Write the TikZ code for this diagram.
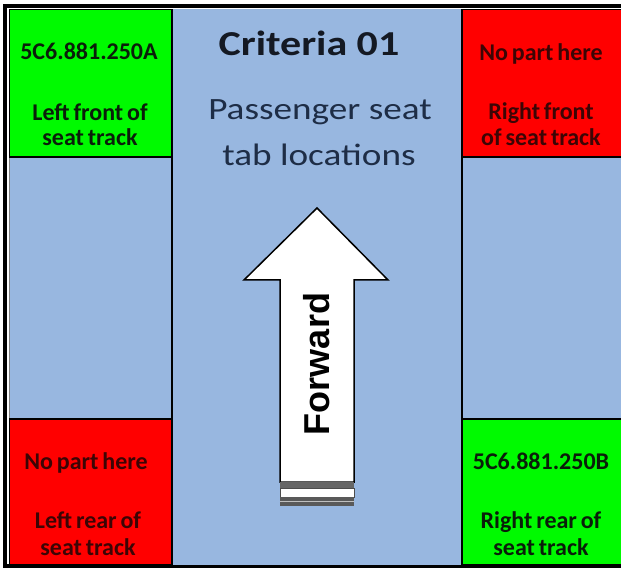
\documentclass[tikz,border=0pt]{standalone}
\usepackage{fontspec}
\setmainfont{Carlito}
\newfontfamily\arialbold[BoldFont={Liberation Sans Bold}]{Liberation Sans}
\usetikzlibrary{positioning}

\definecolor{panelblue}{RGB}{152,183,224}
\definecolor{okgreen}{RGB}{0,250,0}
\definecolor{nored}{RGB}{255,0,0}
\definecolor{greentext}{RGB}{10,30,10}
\definecolor{redtext}{RGB}{60,5,5}
\definecolor{titletext}{RGB}{20,25,35}
\definecolor{subtext}{RGB}{30,45,70}

% tight bold face for the cell captions
\newcommand\cellfont{\fontsize{24}{28}\selectfont\bfseries\spaceskip 0.16em\relax}

\tikzset{
  cell/.style={draw=black, line width=1.2pt},
  celltext/.style={font=\cellfont, inner sep=0pt, anchor=base},
  greenlabel/.style={celltext, text=greentext},
  redlabel/.style={celltext, text=redtext},
  bigtitle/.style={font=\fontsize{35}{40}\selectfont\bfseries, text=titletext, inner sep=0pt, anchor=base},
  subtitle/.style={font=\fontsize{31}{36}\selectfont, text=subtext, inner sep=0pt, anchor=base},
}

\begin{document}
\begin{tikzpicture}[x=1pt, y=-1pt]
\useasboundingbox (0,0) rectangle (621,569);
\begin{scope}
\clip (0,0) rectangle (621,569);

% outer frame
\fill[white] (0,0) rectangle (621,569);
\draw[black, line width=4pt] (5,6.5) rectangle (640,566);
\draw[gray, line width=0.6pt] (8.8,9.5) -- (8.8,564);

% central band and side panels
\fill[panelblue] (9.5,9.5) rectangle (630,564.5);
\draw[cell] (172,9.5) -- (172,564.5);
\draw[cell] (462,9.5) -- (462,564.5);

% corner cells
\draw[cell, fill=okgreen] (9.5,9.5) rectangle (172,157);
\draw[cell, fill=nored] (462,9.5) rectangle (630,157);
\draw[cell, fill=nored] (9.5,419) rectangle (172,564.5);
\draw[cell, fill=okgreen] (462,419) rectangle (630,564.5);
\end{scope}

% cell labels
\node[greenlabel] (tlpart) at (89,60) {5C6.881.250A};
\node[greenlabel] (tlwhere) at (90,121) {Left front of};
\node[greenlabel] (tlwhere2) at (90,146) {seat track};

\node[redlabel] (trpart) at (541,61) {No part here};
\node[redlabel] (trwhere) at (541,120) {Right front};
\node[redlabel] (trwhere2) at (541,146) {of seat track};

\node[redlabel] (blpart) at (86,469) {No part here};
\node[redlabel] (blwhere) at (88,528) {Left rear of};
\node[redlabel] (blwhere2) at (88,555) {seat track};

\node[greenlabel] (brpart) at (541,469) {5C6.881.250B};
\node[greenlabel] (brwhere) at (541,528) {Right rear of};
\node[greenlabel] (brwhere2) at (541,555) {seat track};

% heading
\node[bigtitle] (title) at (309,56) {\scalebox{1.2}[1]{Criteria 01}};
\node[subtitle] (sub1) at (320,120) {\scalebox{1.2}[1]{Passenger seat}};
\node[subtitle] (sub2) at (319,166) {\scalebox{1.2}[1]{tab locations}};

% forward arrow
\draw[black, line width=1.5pt, fill=white, line join=miter]
  (317,208) -- (388,280) -- (354,280) -- (354,482) -- (280,482) -- (280,280) -- (244,280) -- cycle;
\fill[black!60] (280,482) rectangle (354,488);
\draw[black!70, line width=0.8pt, fill=white] (280,488) rectangle (354,497);
\fill[black!65] (280,497) rectangle (354,506);
\draw[black!25, line width=1pt] (280,501.5) -- (354,501.5);

\node[font=\arialbold\fontsize{36}{40}\selectfont\bfseries, rotate=90, inner sep=0pt] (fwd) at (317,364) {Forward};
\end{tikzpicture}
\end{document}
